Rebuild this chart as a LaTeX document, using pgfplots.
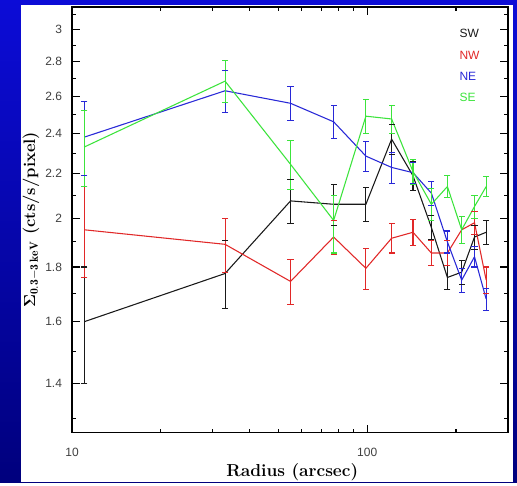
\documentclass[border=0pt]{standalone}
\usepackage{pgfplots}
\pgfplotsset{compat=1.18}
\usepackage{fontspec}
\usepackage{amsmath}
\newfontfamily\tickfont{Liberation Sans}
\newcommand\smallsans{\tickfont\fontsize{9}{10}\selectfont}
\definecolor{cSW}{RGB}{25,25,25}
\definecolor{cNW}{RGB}{225,40,40}
\definecolor{cNE}{RGB}{40,40,215}
\definecolor{cSE}{RGB}{60,228,60}
\definecolor{bgtop}{RGB}{12,12,215}
\definecolor{bgbot}{RGB}{0,0,125}
% error bars drawn as segments (lo,hi) with caps
\pgfplotsset{
  ebar/.style={line width=0.8pt, forget plot, unbounded coords=jump},
  ecap/.style={only marks, mark=-, mark size=2.3pt, mark options={line width=0.8pt}, forget plot},
}
\begin{document}
\begin{tikzpicture}
% slide background and white panel; axis box sits at (0,0)
\shade[top color=bgtop, bottom color=bgbot] (-54pt,-36.975pt) rectangle (333.75pt,324.525pt);
\fill[white] (-38.5pt,-36.975pt) rectangle (330.75pt,320.775pt);
\begin{axis}[
  scale only axis, width=327pt, height=319.3pt,
  xmode=log, ymode=log,
  xmin=10, xmax=300, ymin=1.26, ymax=3.15,
  xtick={10,100}, xticklabels={10,100},
  minor xtick={20,30,40,50,60,70,80,90,200,300},
  ytick={1.4,1.6,1.8,2,2.2,2.4,2.6,2.8,3},
  yticklabels={1.4,1.6,1.8,2,2.2,2.4,2.6,2.8,3},
  minor ytick={1.3,1.5,1.7,1.9,2.1,2.3,2.5,2.7,2.9,3.1},
  tick align=inside,
  major tick length=6pt, minor tick length=3pt,
  every tick/.style={draw=black, line width=0.8pt},
  axis line style={draw=black, line width=1.1pt},
  tick label style={font=\smallsans, text=black!75},
  xticklabel style={yshift=-8pt},
  yticklabel style={xshift=-4pt},
  xlabel={Radius (arcsec)},
  xlabel style={font=\bfseries\fontsize{13}{15}\selectfont, at={(axis description cs:0.505,-0.104)}, anchor=base},
  ylabel={$\boldsymbol{\Sigma}_{\mathbf{0.3-3}\,\mathbf{keV}}$ (cts/s/pixel)},
  ylabel style={font=\bfseries\fontsize{12.5}{14}\selectfont, at={(axis description cs:-0.094,0.5)}, anchor=center},
]
% ---- SW
\addplot[cSW, line width=0.8pt] coordinates {
(11,1.60) (33,1.775) (55,2.075) (77,2.06) (99,2.06) (121,2.37)
(143,2.19) (165,1.96) (187,1.76) (209,1.78) (231,1.92) (253,1.94)};
\addplot[cSW, ebar] coordinates {
(11,1.40) (11,1.80) (11,nan) (33,1.645) (33,1.905) (33,nan)
(55,1.975) (55,2.175) (55,nan) (77,1.97) (77,2.15) (77,nan)
(99,1.985) (99,2.135) (99,nan) (121,2.295) (121,2.445) (121,nan)
(143,2.12) (143,2.26) (143,nan) (165,1.91) (165,2.01) (165,nan)
(187,1.715) (187,1.805) (187,nan) (209,1.735) (209,1.825) (209,nan)
(231,1.87) (231,1.97) (231,nan) (253,1.89) (253,1.99)};
\addplot[cSW, ecap] coordinates {
(11,1.40) (11,1.80) (33,1.645) (33,1.905) (55,1.975) (55,2.175)
(77,1.97) (77,2.15) (99,1.985) (99,2.135) (121,2.295) (121,2.445)
(143,2.12) (143,2.26) (165,1.91) (165,2.01) (187,1.715) (187,1.805)
(209,1.735) (209,1.825) (231,1.87) (231,1.97) (253,1.89) (253,1.99)};
% ---- NW
\addplot[cNW, line width=0.8pt] coordinates {
(11,1.95) (33,1.89) (55,1.745) (77,1.92) (99,1.795) (121,1.915)
(143,1.94) (165,1.855) (187,1.855) (209,1.95) (231,1.98) (253,1.75)};
\addplot[cNW, ebar] coordinates {
(11,1.76) (11,2.14) (11,nan) (33,1.78) (33,2.00) (33,nan)
(55,1.66) (55,1.83) (55,nan) (77,1.85) (77,1.99) (77,nan)
(99,1.715) (99,1.875) (99,nan) (121,1.855) (121,1.975) (121,nan)
(143,1.885) (143,1.995) (143,nan) (165,1.805) (165,1.905) (165,nan)
(187,1.805) (187,1.905) (187,nan) (209,1.895) (209,2.005) (209,nan)
(231,1.93) (231,2.03) (231,nan) (253,1.70) (253,1.80)};
\addplot[cNW, ecap] coordinates {
(11,1.76) (11,2.14) (33,1.78) (33,2.00) (55,1.66) (55,1.83)
(77,1.85) (77,1.99) (99,1.715) (99,1.875) (121,1.855) (121,1.975)
(143,1.885) (143,1.995) (165,1.805) (165,1.905) (187,1.805) (187,1.905)
(209,1.895) (209,2.005) (231,1.93) (231,2.03) (253,1.70) (253,1.80)};
% ---- NE
\addplot[cNE, line width=0.8pt] coordinates {
(11,2.38) (33,2.63) (55,2.56) (77,2.46) (99,2.285) (121,2.23)
(143,2.205) (165,2.11) (187,1.90) (209,1.75) (231,1.84) (253,1.68)};
\addplot[cNE, ebar] coordinates {
(11,2.19) (11,2.57) (11,nan) (33,2.51) (33,2.75) (33,nan)
(55,2.465) (55,2.655) (55,nan) (77,2.373) (77,2.547) (77,nan)
(99,2.211) (99,2.359) (99,nan) (121,2.155) (121,2.305) (121,nan)
(143,2.155) (143,2.255) (143,nan) (165,2.055) (165,2.165) (165,nan)
(187,1.855) (187,1.945) (187,nan) (209,1.705) (209,1.795) (209,nan)
(231,1.80) (231,1.88) (231,nan) (253,1.64) (253,1.72)};
\addplot[cNE, ecap] coordinates {
(11,2.19) (11,2.57) (33,2.51) (33,2.75) (55,2.465) (55,2.655)
(77,2.373) (77,2.547) (99,2.211) (99,2.359) (121,2.155) (121,2.305)
(143,2.155) (143,2.255) (165,2.055) (165,2.165) (187,1.855) (187,1.945)
(209,1.705) (209,1.795) (231,1.80) (231,1.88) (253,1.64) (253,1.72)};
% ---- SE
\addplot[cSE, line width=0.8pt] coordinates {
(11,2.33) (33,2.685) (55,2.245) (77,1.99) (99,2.49) (121,2.475)
(143,2.21) (165,2.06) (187,2.14) (209,1.95) (231,2.05) (253,2.14)};
\addplot[cSE, ebar] coordinates {
(11,2.14) (11,2.52) (11,nan) (33,2.565) (33,2.805) (33,nan)
(55,2.125) (55,2.365) (55,nan) (77,1.855) (77,2.10) (77,nan)
(99,2.40) (99,2.58) (99,nan) (121,2.40) (121,2.55) (121,nan)
(143,2.15) (143,2.27) (143,nan) (165,1.99) (165,2.13) (165,nan)
(187,2.09) (187,2.19) (187,nan) (209,1.895) (209,2.005) (209,nan)
(231,2.00) (231,2.10) (231,nan) (253,2.095) (253,2.185)};
\addplot[cSE, ecap] coordinates {
(11,2.14) (11,2.52) (33,2.565) (33,2.805) (55,2.125) (55,2.365)
(77,1.855) (77,2.10) (99,2.40) (99,2.58) (121,2.40) (121,2.55)
(143,2.15) (143,2.27) (165,1.99) (165,2.13) (187,2.09) (187,2.19)
(209,1.895) (209,2.005) (231,2.00) (231,2.10) (253,2.095) (253,2.185)};
\end{axis}
% frame drawn again on top of the plots
\draw[black, line width=1.1pt] (0pt,0pt) rectangle (327pt,319.3pt);
% region labels, top right inside the box
\node[anchor=west, text=cSW, font=\smallsans] at (287.1pt,299.8pt) {SW};
\node[anchor=west, text=cNW, font=\smallsans] at (287.1pt,283.2pt) {NW};
\node[anchor=west, text=cNE, font=\smallsans] at (287.1pt,267.6pt) {NE};
\node[anchor=west, text=cSE, font=\smallsans] at (287.1pt,251.6pt) {SE};
\end{tikzpicture}
\end{document}
